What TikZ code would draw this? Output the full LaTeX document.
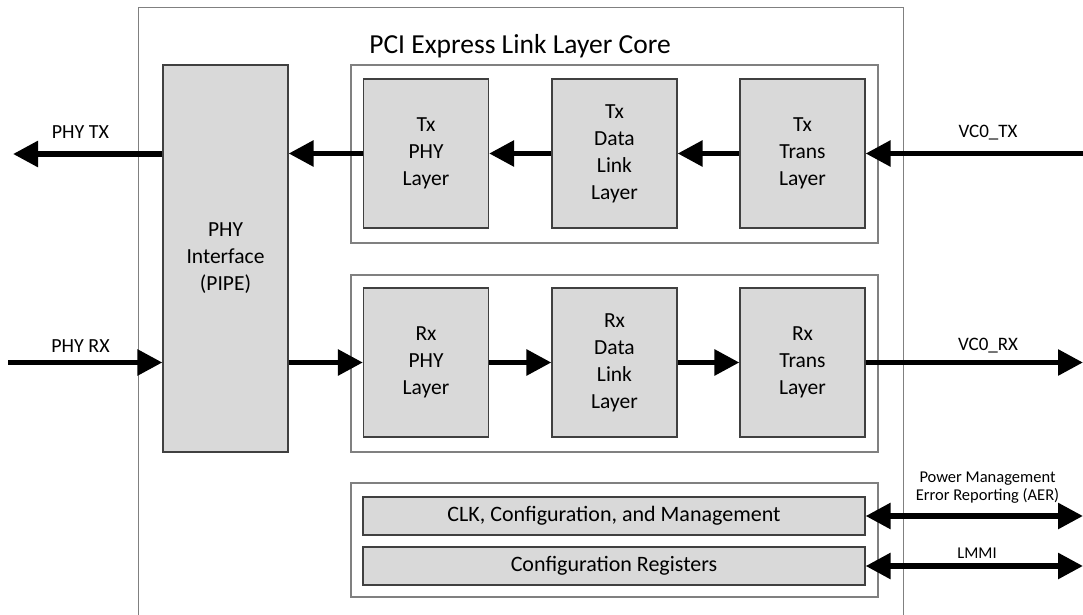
\documentclass[tikz,border=0pt]{standalone}
\usepackage{fontspec}
\setmainfont{Carlito}
\usetikzlibrary{arrows.meta}
\definecolor{blockgray}{RGB}{217,217,217}
\definecolor{edgegray}{RGB}{64,64,64}
\definecolor{framegray}{RGB}{128,128,128}
\tikzset{
  layerbox/.style={draw=edgegray, fill=blockgray, line width=1.2pt, minimum width=125pt,
    minimum height=149pt, inner sep=0pt, align=center, font=\fontsize{21.5}{27}\selectfont},
  barbox/.style={draw=edgegray, fill=blockgray, line width=1.2pt, minimum width=502pt,
    minimum height=38pt, inner sep=0pt, font=\fontsize{22}{27}\selectfont},
  groupbox/.style={draw=framegray, line width=1.2pt},
  flow/.style={line width=5.7pt, -{Triangle[length=25pt,width=25pt]}},
  dflow/.style={line width=5.7pt, {Triangle[length=25pt,width=25pt]}-{Triangle[length=25pt,width=25pt]}},
  sig/.style={font=\fontsize{20}{24}\selectfont, anchor=base, inner sep=0pt},
}
\begin{document}
\begin{tikzpicture}[x=1pt,y=-1pt]
        \useasboundingbox (0,0) rectangle (1083,615);
        % outer frame, open at the bottom
        \draw[framegray, line width=1pt] (138,620) |- (903,8) -- (903,620);
        \node[font=\fontsize{27.5}{33}\selectfont, anchor=base, inner sep=0pt] (title) at (520,54) {PCI Express Link Layer Core};

        % group boxes
        \draw[groupbox] (351,65) rectangle (878,243);
        \draw[groupbox] (351,275) rectangle (878,452);
        \draw[groupbox] (351,483) rectangle (878,597);

        % PHY interface
        \node[layerbox, minimum height=387pt] (phyif) at (225.5,258.5) {PHY\\Interface\\(PIPE)};

        % Tx path
        \node[layerbox] (txphy) at (426,153.5) {Tx\\PHY\\Layer};
        \node[layerbox] (txdll) at (614.5,153.5) {Tx\\Data\\Link\\Layer};
        \node[layerbox] (txtrn) at (802.5,153.5) {Tx\\Trans\\Layer};

        % Rx path
        \node[layerbox] (rxphy) at (426,362.5) {Rx\\PHY\\Layer};
        \node[layerbox] (rxdll) at (614.5,362.5) {Rx\\Data\\Link\\Layer};
        \node[layerbox] (rxtrn) at (802.5,362.5) {Rx\\Trans\\Layer};

        % management bars
        \node[barbox] (clkcfg) at (614,516) {CLK, Configuration, and Management};
        \node[barbox] (cfgreg) at (614,566) {Configuration Registers};

        % free ends
        \coordinate (phytx) at (13,154);
        \coordinate (phyrx) at (8,362.5);
        \coordinate (vctx) at (1083,153.5);
        \coordinate (vcrx) at (1083,362.5);
        \coordinate (pmaer) at (1083,516);
        \coordinate (lmmi) at (1083,566);

        % connectors
        \draw[flow] (phyif.west |- phytx) -- (phytx);
        \draw[flow] (txphy.west) -- (txphy.west -| phyif.east);
        \draw[flow] (txdll.west) -- (txphy.east);
        \draw[flow] (txtrn.west) -- (txdll.east);
        \draw[flow] (vctx) -- (txtrn.east);
        \draw[flow] (phyrx) -- (phyrx -| phyif.west);
        \draw[flow] (rxphy.west -| phyif.east) -- (rxphy.west);
        \draw[flow] (rxphy.east) -- (rxdll.west);
        \draw[flow] (rxdll.east) -- (rxtrn.west);
        \draw[flow] (rxtrn.east) -- (vcrx);
        \draw[dflow] (clkcfg.east) -- (pmaer);
        \draw[dflow] (cfgreg.east) -- (lmmi);

        % signal labels
        \node[sig] (phytxl) at (80.5,139) {PHY TX};
        \node[sig] (phyrxl) at (80.5,352) {PHY RX};
        \node[sig, font=\fontsize{19}{23}\selectfont] (vctxl) at (988,137) {VC0\_TX};
        \node[sig, font=\fontsize{19}{23}\selectfont] (vcrxl) at (988,350) {VC0\_RX};
        \node[font=\fontsize{16.5}{18}\selectfont, align=center, inner sep=0pt] (pmaerl) at (987.5,488) {Power Management\\Error Reporting (AER)};
        \node[sig, font=\fontsize{16.5}{18}\selectfont] (lmmil) at (977,558) {LMMI};
\end{tikzpicture}
\end{document}
